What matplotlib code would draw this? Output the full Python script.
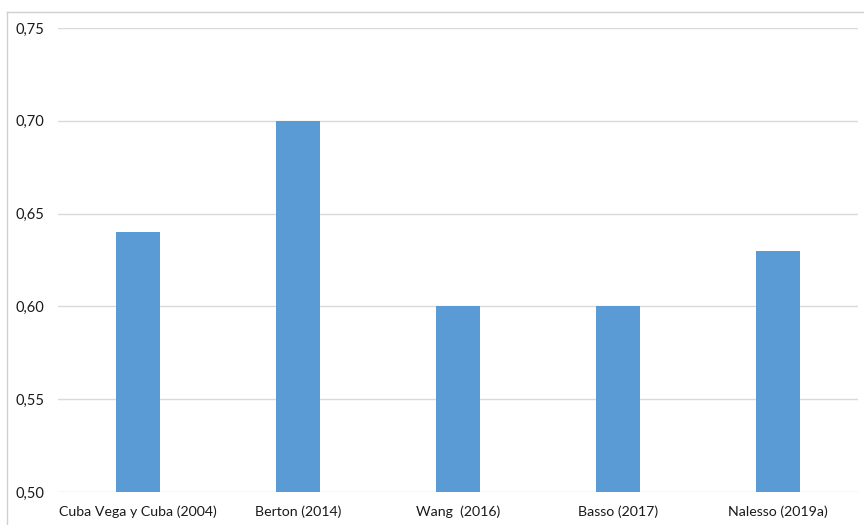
import numpy as np
import matplotlib.pyplot as plt
from matplotlib.lines import Line2D
from matplotlib.ticker import FuncFormatter

estudios = ['Cuba Vega y Cuba (2004)', 'Berton (2014)', 'Wang  (2016)', 'Basso (2017)', 'Nalesso (2019a)']
valores = [0.64, 0.70, 0.60, 0.60, 0.63]
ticks_y = [0.50, 0.55, 0.60, 0.65, 0.70, 0.75]

plt.rcParams['font.family'] = ['Lato', 'DejaVu Sans']

fig = plt.figure(figsize=(8.64, 5.25), dpi=100)
ax = fig.add_axes([58/864, 1-492/525, 800/864, (492-28)/525])

x = np.arange(len(estudios))
ax.bar(x, valores, width=0.28, color='#5B9BD5', zorder=3)
ax.set_xlim(-0.5, len(estudios)-0.5)
ax.set_ylim(0.50, 0.75)
ax.set_yticks(ticks_y)
ax.yaxis.set_major_formatter(FuncFormatter(lambda v, p: f'{v:.2f}'.replace('.', ',')))
ax.set_xticks(x)
ax.set_xticklabels(estudios)
ax.grid(axis='y', color='#D9D9D9', linewidth=1, zorder=0)
for s in ax.spines.values():
    s.set_visible(False)
ax.tick_params(length=0, labelsize=10.2, colors='#1a1a1a')
ax.tick_params(axis='y', pad=10, labelsize=10.5)
ax.tick_params(axis='x', pad=10)

# marco gris del grafico
fig.add_artist(Line2D([7/864, 1], [1-12/525, 1-12/525], color='#D0D0D0', lw=1))
fig.add_artist(Line2D([7/864, 7/864], [0, 1-12/525], color='#D0D0D0', lw=1))

fig.savefig('out.png', dpi=100)
